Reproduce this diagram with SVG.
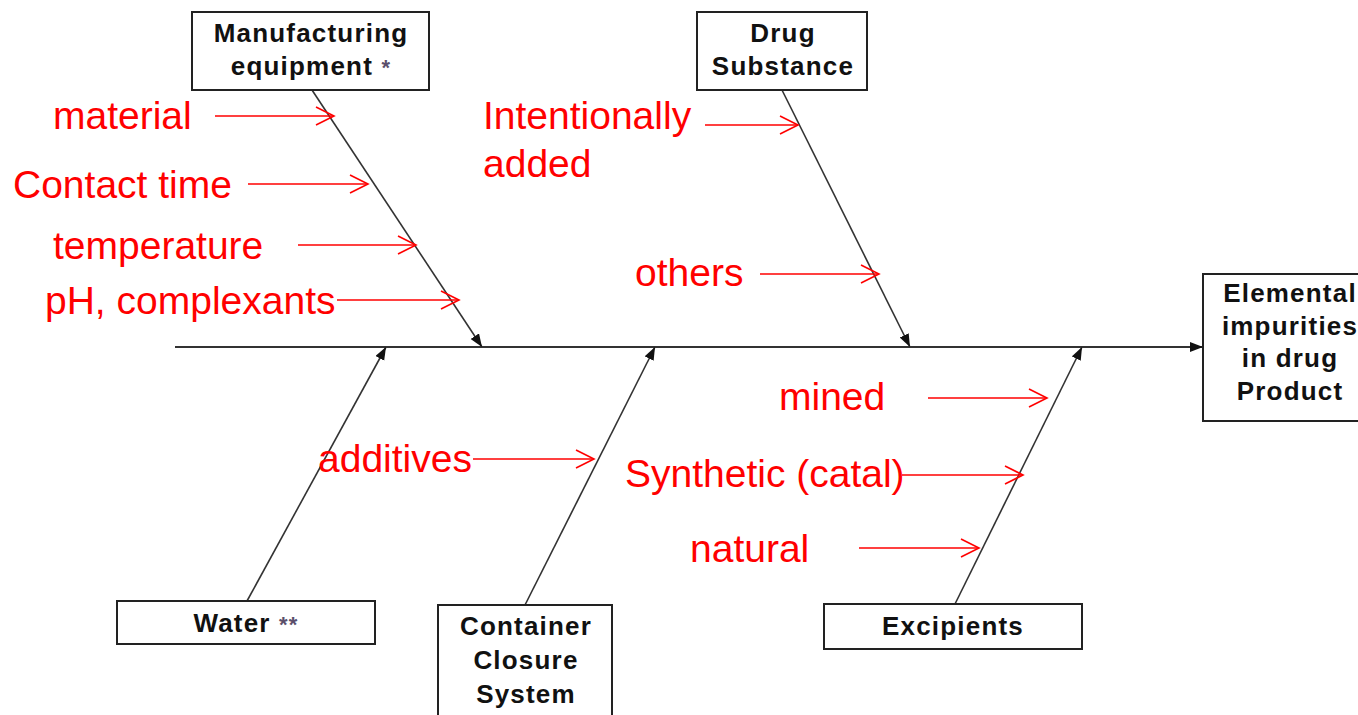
<svg xmlns="http://www.w3.org/2000/svg" width="1358" height="715" viewBox="0 0 1358 715">
<style>
.box{fill:#fff;stroke:#222;stroke-width:2}
.lbl{font-family:"Liberation Sans",Arial,sans-serif;font-weight:bold;font-size:26px;letter-spacing:1.2px;fill:#111;text-anchor:middle}
.ast{fill:#5b4f6b;font-size:22px}
.red{font-family:"Liberation Sans",Arial,sans-serif;font-size:39px;fill:#ff0000}
.bone{stroke:#333;stroke-width:1.6;fill:none;marker-end:url(#blk)}
.rarr{stroke:#ff0000;stroke-width:1.6;fill:none;marker-end:url(#rv)}
</style>
<defs>
<marker id="blk" markerUnits="userSpaceOnUse" markerWidth="14" markerHeight="12" refX="13" refY="5" orient="auto">
<path d="M0,0 L13,5 L0,10 z" fill="#111"/>
</marker>
<marker id="rv" markerUnits="userSpaceOnUse" markerWidth="22" markerHeight="22" refX="19" refY="10" orient="auto">
<path d="M1,1 L19,10 L1,19" fill="none" stroke="#ff0000" stroke-width="1.6"/>
</marker>
</defs>
<rect width="1358" height="715" fill="#fff"/>
<g id="connectors">
<line class="bone" x1="175" y1="347" x2="1203" y2="347" style="stroke-width:2"/>
<line class="bone" x1="312" y1="90" x2="482" y2="347"/>
<line class="bone" x1="782" y1="90" x2="910" y2="347"/>
<line class="bone" x1="247" y1="601" x2="386" y2="347"/>
<line class="bone" x1="525" y1="605" x2="655" y2="347"/>
<line class="bone" x1="955" y1="604" x2="1082" y2="347"/>
</g>
<g id="causes">
<text class="red" x="53" y="129">material</text>
<line class="rarr" x1="215" y1="116" x2="334" y2="116"/>
<text class="red" x="13" y="198">Contact time</text>
<line class="rarr" x1="248" y1="184" x2="368" y2="184"/>
<text class="red" x="53" y="259">temperature</text>
<line class="rarr" x1="298" y1="245" x2="416" y2="245"/>
<text class="red" x="45" y="314">pH, complexants</text>
<line class="rarr" x1="337" y1="300" x2="459" y2="300"/>
<text class="red" x="483" y="129">Intentionally</text>
<text class="red" x="483" y="177">added</text>
<line class="rarr" x1="705" y1="125" x2="798" y2="125"/>
<text class="red" x="635" y="286">others</text>
<line class="rarr" x1="760" y1="274" x2="879" y2="274"/>
<text class="red" x="318" y="472">additives</text>
<line class="rarr" x1="473" y1="459" x2="594" y2="459"/>
<text class="red" x="779" y="410">mined</text>
<line class="rarr" x1="928" y1="398" x2="1047" y2="398"/>
<text class="red" x="625" y="487">Synthetic (catal)</text>
<line class="rarr" x1="902" y1="475" x2="1023" y2="475"/>
<text class="red" x="690" y="562">natural</text>
<line class="rarr" x1="859" y1="548" x2="979" y2="548"/>
</g>
<g id="manufacturing">
<rect class="box" x="192" y="12" width="237" height="78"/>
<text class="lbl" x="311" y="42">Manufacturing</text>
<text class="lbl" x="311" y="75">equipment <tspan class="ast">*</tspan></text>
</g>
<g id="drug-substance">
<rect class="box" x="697" y="12" width="170" height="78"/>
<text class="lbl" x="783" y="42">Drug</text>
<text class="lbl" x="783" y="75">Substance</text>
</g>
<g id="product">
<rect class="box" x="1203" y="274" width="175" height="147"/>
<text class="lbl" x="1290" y="302">Elemental</text>
<text class="lbl" x="1290" y="335">impurities</text>
<text class="lbl" x="1290" y="367">in drug</text>
<text class="lbl" x="1290" y="400">Product</text>
</g>
<g id="water">
<rect class="box" x="117" y="601" width="258" height="43"/>
<text class="lbl" x="246" y="632">Water <tspan class="ast">**</tspan></text>
</g>
<g id="container">
<rect class="box" x="438" y="605" width="174" height="120"/>
<text class="lbl" x="526" y="635">Container</text>
<text class="lbl" x="526" y="669">Closure</text>
<text class="lbl" x="526" y="703">System</text>
</g>
<g id="excipients">
<rect class="box" x="824" y="604" width="258" height="45"/>
<text class="lbl" x="953" y="635">Excipients</text>
</g>
</svg>
